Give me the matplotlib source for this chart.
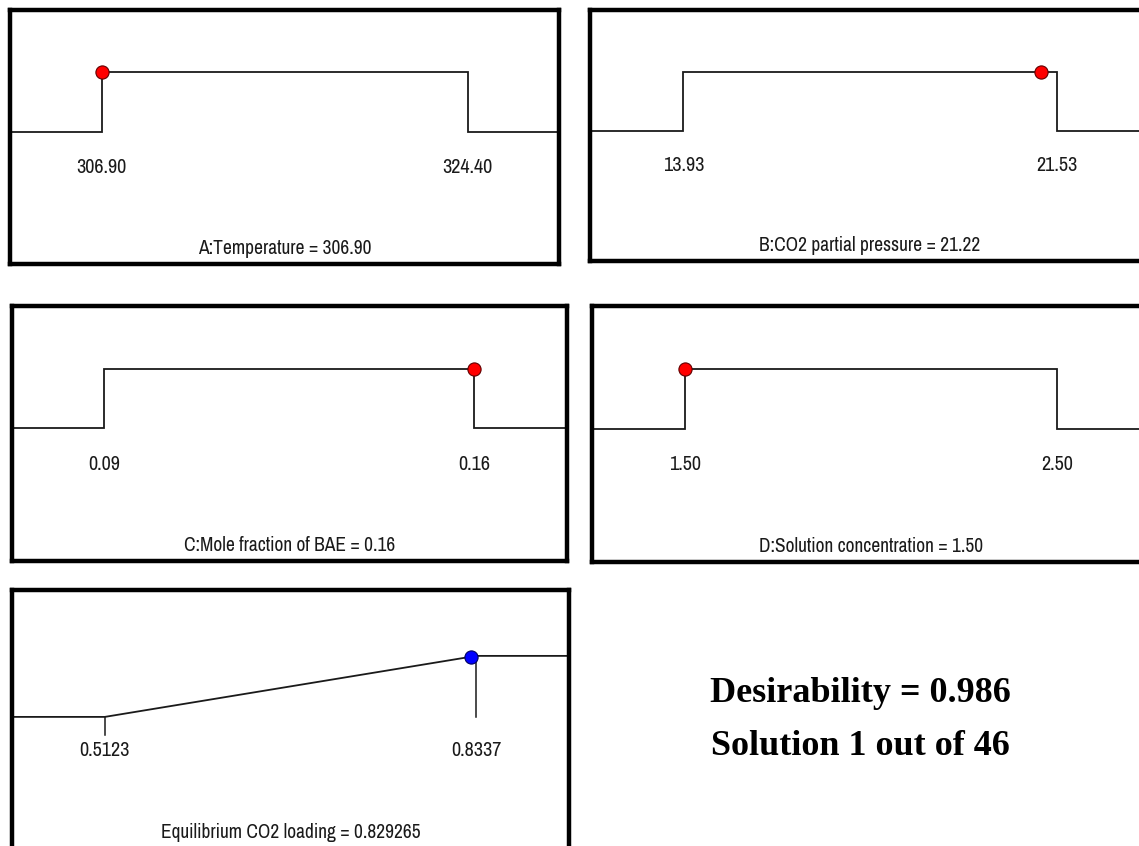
import matplotlib
matplotlib.use("Agg")
import matplotlib.pyplot as plt

# ── Optimisation results ──────────────────────────────────────────────────────

factor_names = ["A:Temperature", "B:CO2 partial pressure",
                "C:Mole fraction of BAE", "D:Solution concentration"]
factor_low = [306.90, 13.93, 0.09, 1.50]
factor_high = [324.40, 21.53, 0.16, 2.50]
factor_value = [306.90, 21.22, 0.16, 1.50]

response_name = "Equilibrium CO2 loading"
response_low = 0.5123
response_high = 0.8337
response_value = 0.829265

desirability = 0.986
solution_no = 1
n_solutions = 46

# ── Layout (pixel boxes: left, top, right, bottom) ───────────────────────────

W, H = 1139, 846
factor_boxes = [(10, 10, 559, 264), (590, 10, 1150, 261),
                (12, 306, 567, 561), (592, 306, 1150, 562)]
response_box = (12, 590, 569, 856)

NARROW = ["Archivo Narrow", "Roboto Condensed", "DejaVu Sans"]
INK = "#1a1a1a"


def add_box(fig, box):
    x0, y0, x1, y1 = box
    ax = fig.add_axes([x0 / W, 1 - y1 / H, (x1 - x0) / W, (y1 - y0) / H])
    ax.set_xticks([])
    ax.set_yticks([])
    for sp in ax.spines.values():
        sp.set_linewidth(3.2)
        sp.set_color("black")
    return ax


def set_limits(ax, lo, hi, top=2.05, bottom=-2.22):
    span = hi - lo
    ax.set_xlim(lo - 0.25 * span, hi + 0.25 * span)
    ax.set_ylim(bottom, top)
    return ax.get_xlim()


fig = plt.figure(figsize=(W / 100, H / 100), dpi=100)

# factor ramps: step from the lower limit up to the upper limit
for i, box in enumerate(factor_boxes):
    ax = add_box(fig, box)
    lo, hi, val = factor_low[i], factor_high[i], factor_value[i]
    x0, x1 = set_limits(ax, lo, hi)
    ax.plot([x0, lo, lo, hi, hi, x1], [0, 0, 1, 1, 0, 0],
            color=INK, lw=1.3, zorder=2, solid_joinstyle="miter")
    ax.plot([val], [1], "o", ms=9.5, mfc="#ff0000", mec="#600000",
            mew=0.8, zorder=3, clip_on=False)
    for v in (lo, hi):
        ax.text(v, -0.6, f"{v:.2f}", ha="center", va="center",
                fontsize=14.5, family=NARROW, color=INK)
    ax.text(lo + (hi - lo) * 0.5, -1.96, f"{factor_names[i]} = {val:.2f}",
            ha="center", va="center", fontsize=14, family=NARROW, color=INK)

# response ramp: linear desirability between the limits
ax = add_box(fig, response_box)
lo, hi = response_low, response_high
x0, x1 = set_limits(ax, lo, hi, top=2.08, bottom=-2.28)
ax.plot([x0, lo, hi, x1], [0, 0, 1, 1], color=INK, lw=1.3, zorder=2)
ax.plot([lo, lo], [0, -0.3], color=INK, lw=1.1)
ax.plot([hi, hi], [1, 0.0], color=INK, lw=1.1)
d = (response_value - lo) / (hi - lo)
ax.plot([response_value], [d], "o", ms=9.5, mfc="#0000ff", mec="#000060",
        mew=0.8, zorder=3)
for v in (lo, hi):
    ax.text(v, -0.55, f"{v:.4f}", ha="center", va="center",
            fontsize=14.5, family=NARROW, color=INK)
ax.text(lo + (hi - lo) * 0.5, -1.89, f"{response_name} = {response_value:g}",
        ha="center", va="center", fontsize=14, family=NARROW, color=INK)

fig.text(860 / W, 1 - 693 / H, f"Desirability = {desirability:.3f}",
         ha="center", va="center", fontsize=26, fontweight="bold",
         family="Liberation Serif")
fig.text(860 / W, 1 - 746 / H, f"Solution {solution_no} out of {n_solutions}",
         ha="center", va="center", fontsize=26, fontweight="bold",
         family="Liberation Serif")

fig.savefig("out.png", dpi=100)
